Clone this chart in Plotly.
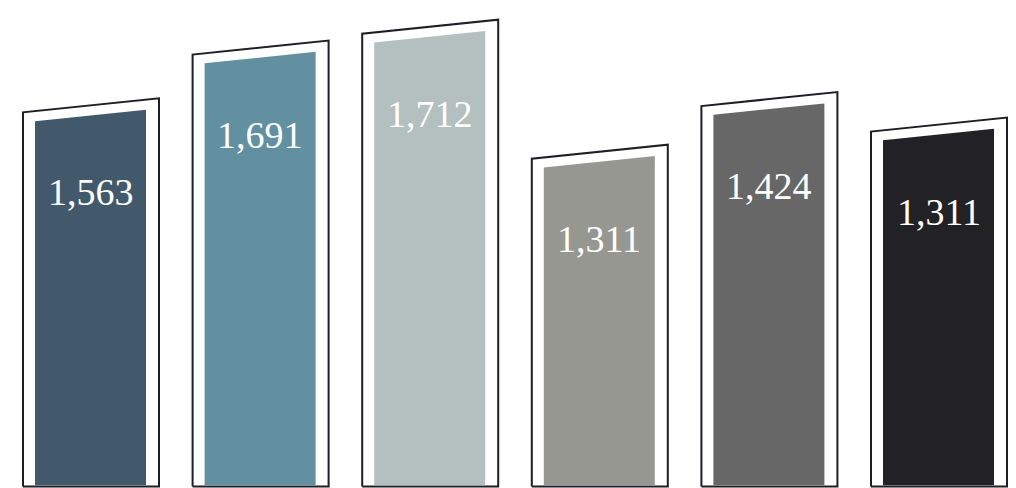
import plotly.graph_objects as go

# ---- data ----
categories = ["A", "B", "C", "D", "E", "F"]
values = [1563, 1691, 1712, 1311, 1424, 1311]
labels = ["1,563", "1,691", "1,712", "1,311", "1,424", "1,311"]
bar_colors = ["#41596b", "#6390a0", "#b3c0bf", "#979792", "#666766", "#222126"]

# ---- styling / geometry (in axis units) ----
W, H = 1016, 488
PX_PER_X = 169.6                 # pixels per category step
UNITS_PER_PX = 2.8927            # value units per vertical pixel
X_RANGE = [-91 / PX_PER_X, (W - 91) / PX_PER_X]
Y_TOP = 1769.8
Y_RANGE = [Y_TOP - H * UNITS_PER_PX, Y_TOP]
XC = 2.4926                      # shear pivot
SHEAR = 39.3                     # value units per category step (picture tilt)
EXTRA_TILT = 11.3                # extra slant of bar tops
HALF_OUT = 68 / PX_PER_X
IN_LEFT = 12 / PX_PER_X
IN_RIGHT = 13 / PX_PER_X
IN_TOP = 10 * UNITS_PER_PX
LABEL_DROP = 87 * UNITS_PER_PX
Y_BOTTOM = Y_RANGE[0] + 1.5 * UNITS_PER_PX


def top_y(v, x, i):
    return v + SHEAR * (x - XC) + EXTRA_TILT * (x - i)


fig = go.Figure()
annotations = []
for i, (v, lab, col) in enumerate(zip(values, labels, bar_colors)):
    xl, xr = i - HALF_OUT, i + HALF_OUT
    fig.add_trace(go.Scatter(
        x=[xl, xl, xr, xr, xl],
        y=[Y_BOTTOM, top_y(v, xl, i), top_y(v, xr, i), Y_BOTTOM, Y_BOTTOM],
        mode="lines", fill="toself", fillcolor="white",
        line=dict(color="#1e1e26", width=2), hoverinfo="skip", showlegend=False))
    il, ir = xl + IN_LEFT, xr - IN_RIGHT
    yb = Y_BOTTOM + 1.2 * UNITS_PER_PX
    fig.add_trace(go.Scatter(
        x=[il, il, ir, ir, il],
        y=[yb, top_y(v, il, i) - IN_TOP, top_y(v, ir, i) - IN_TOP, yb, yb],
        mode="lines", fill="toself", fillcolor=col,
        line=dict(color=col, width=0), hoverinfo="skip", showlegend=False))
    cx = (il + ir) / 2
    annotations.append(dict(
        x=cx, y=top_y(v, i, i) - LABEL_DROP, text=lab, showarrow=False,
        xanchor="center", yanchor="middle",
        font=dict(family="Liberation Serif", size=38, color="white")))

fig.update_layout(
    width=W, height=H,
    margin=dict(l=0, r=0, t=0, b=0),
    paper_bgcolor="white", plot_bgcolor="white",
    xaxis=dict(range=X_RANGE, visible=False, fixedrange=True),
    yaxis=dict(range=Y_RANGE, visible=False, fixedrange=True),
    annotations=annotations,
    showlegend=False,
)
fig.write_html("out.html", config={"displayModeBar": False},
               post_script="document.body.style.margin='0';")
